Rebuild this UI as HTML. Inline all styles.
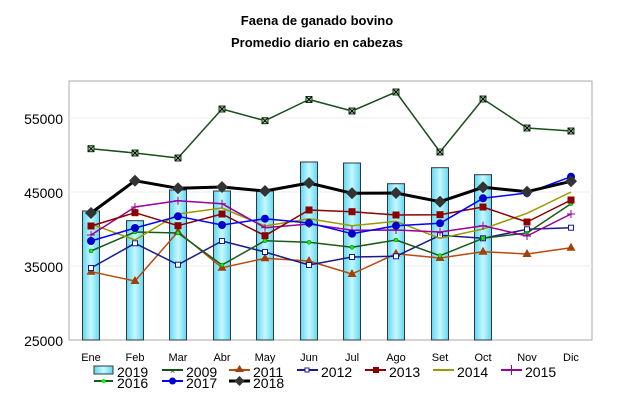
<!DOCTYPE html>
<html><head><meta charset="utf-8"><style>
body{margin:0;background:#fff;width:634px;height:418px;overflow:hidden}
svg{display:block;font-family:"Liberation Sans",Arial,sans-serif}
</style></head><body>
<svg id="s" width="634" height="418" viewBox="0 0 634 418">
<defs>
<linearGradient id="bg" x1="0" x2="1" y1="0" y2="0">
<stop offset="0" stop-color="#5fd8f0"/><stop offset="0.5" stop-color="#c8f8ff"/><stop offset="1" stop-color="#5fd8f0"/>
</linearGradient>
</defs>
<text x="317" y="25" text-anchor="middle" font-size="13" font-weight="bold">Faena de ganado bovino</text>
<text x="317" y="47" text-anchor="middle" font-size="13" font-weight="bold">Promedio diario en cabezas</text>
<rect x="69" y="81" width="523" height="259" fill="#fff" stroke="#aaa" stroke-width="1"/>
<g stroke="#eee" stroke-width="1">
<line x1="69" x2="592" y1="118" y2="118"/><line x1="69" x2="592" y1="192" y2="192"/><line x1="69" x2="592" y1="266" y2="266"/>
</g>
<g font-size="14" text-anchor="end">
<text x="63" y="124">55000</text><text x="63" y="198">45000</text><text x="63" y="272">35000</text><text x="63" y="346">25000</text>
</g>
<g font-size="11" text-anchor="middle">
<text x="91" y="361">Ene</text><text x="135" y="361">Feb</text><text x="178" y="361">Mar</text><text x="222" y="361">Abr</text><text x="265" y="361">May</text><text x="309" y="361">Jun</text><text x="352" y="361">Jul</text><text x="396" y="361">Ago</text><text x="440" y="361">Set</text><text x="483" y="361">Oct</text><text x="527" y="361">Nov</text><text x="571" y="361">Dic</text>
</g>
<g id="bars"></g>
<g id="lines"></g>
<g font-size="14">
<rect x="94" y="366" width="19" height="8" fill="url(#bg)" stroke="#334" stroke-width="1"/><text x="117" y="377">2019</text>
<line x1="162" x2="183" y1="370" y2="370" stroke="#1a4d1a" stroke-width="2"/><text x="170" y="374" font-size="9" fill="#1a4d1a">×</text><text x="186" y="377">2009</text>
<line x1="229" x2="250" y1="370" y2="370" stroke="#b84a10" stroke-width="2"/><polygon points="239.5,365 244,372 235,372" fill="#a0400a"/><text x="253" y="377">2011</text>
<line x1="297" x2="318" y1="370" y2="370" stroke="#1a1a8a" stroke-width="2"/><rect x="305" y="368" width="4" height="4" fill="#fff" stroke="#1a1a8a"/><text x="321" y="377">2012</text>
<line x1="365" x2="386" y1="370" y2="370" stroke="#8b0000" stroke-width="2"/><rect x="373" y="367" width="6" height="6" fill="#8b0000"/><text x="389" y="377">2013</text>
<line x1="433" x2="454" y1="370" y2="370" stroke="#999900" stroke-width="2"/><text x="457" y="377">2014</text>
<line x1="501" x2="522" y1="370" y2="370" stroke="#990099" stroke-width="2"/><line x1="511.5" x2="511.5" y1="365" y2="375" stroke="#990099"/><text x="525" y="377">2015</text>
<line x1="94" x2="113" y1="381" y2="381" stroke="#1a5a1a" stroke-width="2"/><circle cx="103.5" cy="381" r="2" fill="#0f0"/><text x="117" y="388">2016</text>
<line x1="162" x2="183" y1="381" y2="381" stroke="#0000ff" stroke-width="2"/><circle cx="172.5" cy="381" r="3.5" fill="#0000cc"/><text x="186" y="388">2017</text>
<line x1="229" x2="250" y1="381" y2="381" stroke="#000" stroke-width="3"/><polygon points="239.5,376 244.5,381 239.5,386 234.5,381" fill="#333"/><text x="253" y="388">2018</text>
</g>
</svg>
<script>
var X=[91,135,178,222,265,309,352,396,440,483,527,571];
var NS="http://www.w3.org/2000/svg";
function el(p,t,a){var e=document.createElementNS(NS,t);for(var k in a)e.setAttribute(k,a[k]);p.appendChild(e);return e;}
var bars=document.getElementById('bars'),L=document.getElementById('lines');
var B=[211,220.7,190,191,191,162,163,183.7,167.7,174.7];
B.forEach(function(y,i){el(bars,'rect',{x:X[i]-8.5,y:y,width:17,height:340-y,fill:'url(#bg)',stroke:'#334',"stroke-width":1});});
var S=[
{c:'#b84a10',w:1.5,m:'tri',mc:'#a0400a',d:[271.7,281,231.7,267.7,258.3,261,274,253.7,258,251.7,254,247.7]},
{c:'#1a1a8a',w:1.5,m:'osq',mc:'#1a1a8a',d:[268,243.3,264.7,241,252,265,257,256.3,235.3,238.3,229.3,227.7]},
{c:'#1a5a1a',w:1.5,m:'dot',mc:'#0f0',d:[251,232,233,265,240.7,242.3,247.3,240,255.7,238.3,233,203.7]},
{c:'#999900',w:1.5,m:null,d:[224,240,214,208,226,218.7,225.7,221.3,238.3,229,213.3,192]},
{c:'#990099',w:1.5,m:'plus',mc:'#990099',d:[235,207,200.7,203.7,227.7,224,230.3,230,232,225.7,236,214]},
{c:'#8b0000',w:1.5,m:'sq',mc:'#8b0000',d:[226,212.7,225.7,214,235.7,210,211.7,215,214.7,207,222,200]},
{c:'#0000ff',w:1.5,m:'circ',mc:'#0000cc',d:[241,228,216.3,225,218.7,223,233.7,225.7,223.3,198.3,193,176.7]},
{c:'#1a4d1a',w:1.5,m:'x',mc:'#1a4d1a',d:[148.7,153,158,109,120.7,99.5,111,92,152,99,128,131]},
{c:'#000',w:3,m:'dia',mc:'#333',d:[213,180.7,188.3,187,191,183,193.3,193,201.7,187.3,191.7,181.3]}
];
S.forEach(function(s){
 el(L,'polyline',{points:s.d.map(function(y,i){return X[i]+','+y}).join(' '),fill:'none',stroke:s.c,"stroke-width":s.w,"stroke-linejoin":"round"});
 s.d.forEach(function(y,i){var x=X[i];
  if(s.m=='tri')el(L,'polygon',{points:(x)+','+(y-5)+' '+(x+4.5)+','+(y+3)+' '+(x-4.5)+','+(y+3),fill:s.mc});
  if(s.m=='osq')el(L,'rect',{x:x-2.5,y:y-2.5,width:5,height:5,fill:'#fff',stroke:s.mc});
  if(s.m=='sq')el(L,'rect',{x:x-3.5,y:y-3.5,width:7,height:7,fill:s.mc});
  if(s.m=='dot')el(L,'circle',{cx:x,cy:y,r:2,fill:s.mc,stroke:'#1a5a1a',"stroke-width":0.5});
  if(s.m=='circ')el(L,'circle',{cx:x,cy:y,r:4,fill:s.mc});
  if(s.m=='plus'){el(L,'line',{x1:x-4,x2:x+4,y1:y,y2:y,stroke:s.mc});el(L,'line',{x1:x,x2:x,y1:y-4,y2:y+4,stroke:s.mc});}
  if(s.m=='dia')el(L,'polygon',{points:x+','+(y-6)+' '+(x+6)+','+y+' '+x+','+(y+6)+' '+(x-6)+','+y,fill:s.mc});
  if(s.m=='x'){el(L,'rect',{x:x-3,y:y-3,width:6,height:6,fill:'#9c9',stroke:'#1a3a1a'});el(L,'line',{x1:x-3,x2:x+3,y1:y-3,y2:y+3,stroke:'#000'});el(L,'line',{x1:x-3,x2:x+3,y1:y+3,y2:y-3,stroke:'#000'});}
 });
});
</script>
</body></html>
